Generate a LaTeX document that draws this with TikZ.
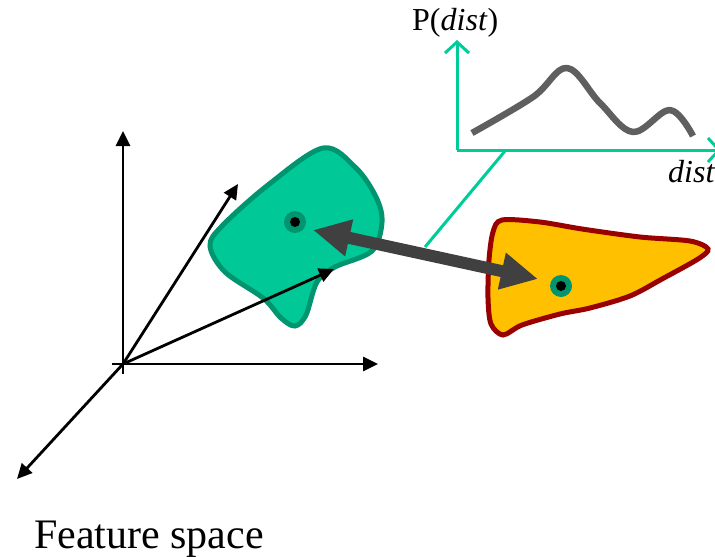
\documentclass[tikz,border=0pt]{standalone}
\usepackage{fontspec}
\setmainfont{Liberation Serif}
\usetikzlibrary{arrows.meta}
\definecolor{tealln}{HTML}{00CC99}
\definecolor{gfill}{HTML}{00C896}
\definecolor{gdraw}{HTML}{00956F}
\definecolor{ofill}{HTML}{FFC000}
\definecolor{odraw}{HTML}{990000}
\definecolor{darkg}{HTML}{404040}
\definecolor{curveg}{HTML}{5F5F5F}
\tikzset{
  axis/.style={line width=2.8pt,-{Triangle[length=15pt,width=14pt]}},
  plotaxis/.style={tealln,line width=3pt,-{Straight Barb[length=11pt,width=24pt,line width=3pt]}},
  blobg/.style={fill=gfill,draw=gdraw,line width=5pt},
  blobo/.style={fill=ofill,draw=odraw,line width=5pt},
}
\begin{document}
\begin{tikzpicture}[x=1pt,y=-1pt]
\useasboundingbox (0,0) rectangle (715,557);
\begin{scope}
\clip (0,0) rectangle (715,557);
% plot axes
\coordinate (po) at (457,150);
\coordinate (py) at (457,40);
\coordinate (px) at (721,150);
\draw[plotaxis] (po) -- (py);
\draw[plotaxis] (po) -- (px);
\node[anchor=base west,font=\fontsize{32}{36}\selectfont,inner sep=0pt] (dist) at (668,182) {\textit{dist}};
\end{scope}
\node[anchor=base west,font=\fontsize{32}{36}\selectfont,inner sep=0pt] (pdist) at (412,30) {P(\textit{dist})};
\draw[curveg,line width=6.5pt,line join=round] plot[smooth,tension=0.6] coordinates
 {(472,133) (533,97) (567,68) (600,103) (633,132) (670,110) (693,136)};
% connector from plot to arrow
\coordinate (c1) at (505,151);
\coordinate (c2) at (425,247);
\draw[tealln,line width=3pt] (c1) -- (c2);
% feature axes
\coordinate (O) at (123,364);
\coordinate (Ol) at (112,364);
\coordinate (Ob) at (123,374);
\draw[line width=2.8pt] (Ol) -- (O) -- (Ob);
\coordinate (ay) at (123,131);
\coordinate (ax) at (378,364);
\coordinate (az) at (17,479);
\draw[axis] (O) -- (ay);
\draw[axis] (O) -- (ax);
\draw[axis] (O) -- (az);
% green blob
\draw[blobg] plot[smooth cycle,tension=0.55] coordinates
 {(323,148) (356,168) (376,197) (382,222) (372,251) (335,267) (317,282) (306,315) (295,326) (281,318) (263,298) (225,272) (210,246) (222,226) (268,185)};
\coordinate (v1) at (238,184);
\coordinate (v2) at (334,269);
\draw[axis] (O) -- (v1);
\draw[axis] (O) -- (v2);
% orange blob
\draw[blobo] plot[smooth cycle,tension=0.5] coordinates
 {(502,220) (540,222) (582,229) (640,237) (690,241) (708,249) (698,259) (662,279) (630,296) (590,308) (560,314) (522,325) (503,335) (491,324) (488,298) (489,260) (493,232)};
% dots
\node[circle,fill=gdraw,minimum size=22pt,inner sep=0pt] (dg) at (295,222) {};
\node[circle,fill=black,minimum size=10pt,inner sep=0pt] at (dg) {};
\node[circle,fill=gdraw,minimum size=22pt,inner sep=0pt] (do) at (561,286) {};
\node[circle,fill=black,minimum size=10pt,inner sep=0pt] at (do) {};
% distance arrow
\coordinate (t1) at (313,230);
\coordinate (t2) at (538,279);
\draw[darkg,line width=12pt,{Triangle[length=37pt,width=35pt]}-{Triangle[length=37pt,width=35pt]}] (t1) -- (t2);
\node[anchor=base west,font=\fontsize{42}{46}\selectfont,inner sep=0pt] (fs) at (34,548) {Feature space};
\end{tikzpicture}
\end{document}
